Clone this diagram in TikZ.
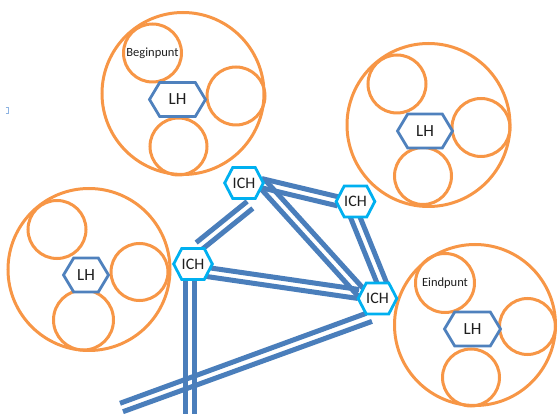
\documentclass[tikz,border=0pt]{standalone}
\usepackage{fontspec}
\setmainfont{Carlito}
\usetikzlibrary{calc,shapes.symbols}

\definecolor{ring}{HTML}{F79646}
\definecolor{lhblue}{HTML}{4F81BD}
\definecolor{wireblue}{HTML}{4A7EBB}
\definecolor{ichcyan}{HTML}{00B0F0}
\definecolor{inkgray}{HTML}{1F1F1F}
\definecolor{tickblue}{HTML}{8DB3E2}

\pgfdeclarelayer{back}
\pgfsetlayers{back,main}

% two parallel strokes, one on each side of the line from #1 to #2
\newcommand\halfgap{4.5pt}
\newcommand\twin[2]{%
  \draw[wire] ($(#1)!\halfgap!90:(#2)$) -- ($(#2)!\halfgap!-90:(#1)$);
  \draw[wire] ($(#1)!\halfgap!-90:(#2)$) -- ($(#2)!\halfgap!90:(#1)$);}

\tikzset{
  ringnode/.style={circle, draw=ring, line width=3pt, inner sep=0pt,
    minimum size=#1},
  lhnode/.style={signal, signal to=east and west, signal pointer angle=118,
    draw=lhblue, fill=white, line width=2.8pt, inner sep=0pt,
    minimum height=34pt, minimum width=#1, text=inkgray,
    font=\fontsize{17}{17}\selectfont},
  ichnode/.style={signal, signal to=east and west, signal pointer angle=125,
    draw=ichcyan, fill=white, line width=2.8pt, inner sep=0pt,
    minimum height=31pt, minimum width=36pt, text=inkgray,
    font=\fontsize{16}{16}\selectfont},
  wire/.style={draw=wireblue, line width=5pt},
  tag/.style={text=inkgray, font=\fontsize{12.5}{12.5}\selectfont}
}

\begin{document}
\begin{tikzpicture}[x=1pt, y=-1pt]
\useasboundingbox (0,0) rectangle (558,414);

% small bracket mark at the left edge
\draw[tickblue, line width=0.9pt] (5.5,107.5) -- (8,107.5) -- (8,113) -- (5.5,113);

% cluster with the start point
\node[ringnode=162pt] (big1) at (183,93.5) {};
\node[ringnode=58pt, tag] (begin) at (152.5,53) {Beginpunt};
\node[ringnode=58pt] (r1b) at (236,96) {};
\node[ringnode=57pt] (r1c) at (178.5,146.5) {};
\node[lhnode=56pt] (lh1) at (177.5,99.5) {LH};

% upper right cluster
\node[ringnode=163pt] (big2) at (428.5,125) {};
\node[ringnode=58pt] (r2a) at (397,84) {};
\node[ringnode=58pt] (r2b) at (481,127.5) {};
\node[ringnode=57pt] (r2c) at (423,176) {};
\node[lhnode=55pt] (lh2) at (425,131) {LH};

% left cluster
\node[ringnode=162pt] (big3) at (89,269.5) {};
\node[ringnode=58pt] (r3a) at (57,229.5) {};
\node[ringnode=57pt] (r3b) at (139.5,272) {};
\node[ringnode=60pt] (r3c) at (83.5,320) {};
\node[lhnode=45pt] (lh3) at (86,275) {LH};

% cluster with the end point
\node[ringnode=161pt] (big4) at (475,325) {};
\node[ringnode=59pt, tag] (end) at (445,283) {Eindpunt};
\node[ringnode=56pt] (r4b) at (527.5,326.5) {};
\node[ringnode=57pt] (r4c) at (471,377.5) {};
\node[lhnode=56pt] (lh4) at (472.5,329) {LH};

% ICH hubs
\node[ichnode] (ich1) at (244,183) {ICH};
\node[ichnode] (ich2) at (355.5,201.5) {ICH};
\node[ichnode] (ich3) at (193,264) {ICH};
\node[ichnode] (ich4) at (377.5,298.5) {ICH};

% loose ends of the outgoing links
\coordinate (fend) at (190,414);
\coordinate (gend) at (121.5,407.5);

\begin{pgfonlayer}{back}
  \twin{[shift={(6,5)}]ich1.south}{[shift={(6,-1)}]ich3.north}
  \twin{[shift={(-4,0)}]ich1.east}{[shift={(4,0)}]ich2.west}
  \twin{[shift={(-3.8,-0.7)}]ich1.east}{[shift={(5.4,-4.8)}]ich4.west}
  \twin{[shift={(-1,-3)}]ich2.south}{[shift={(5,3)}]ich4.north}
  \twin{[shift={(0,6)}]ich3.center}{[shift={(2,-4.5)}]ich4.west}
  \twin{[shift={(-3,-3)}]ich3.south}{fend}
  \draw[wire] ([shift={(-11.5,-2)}]ich4.south) -- ([shift={(-1.5,-4.2)}]gend);
  \draw[wire] ([shift={(-5.5,6)}]ich4.south) -- ([shift={(1.5,4.2)}]gend);
\end{pgfonlayer}
\end{tikzpicture}
\end{document}
